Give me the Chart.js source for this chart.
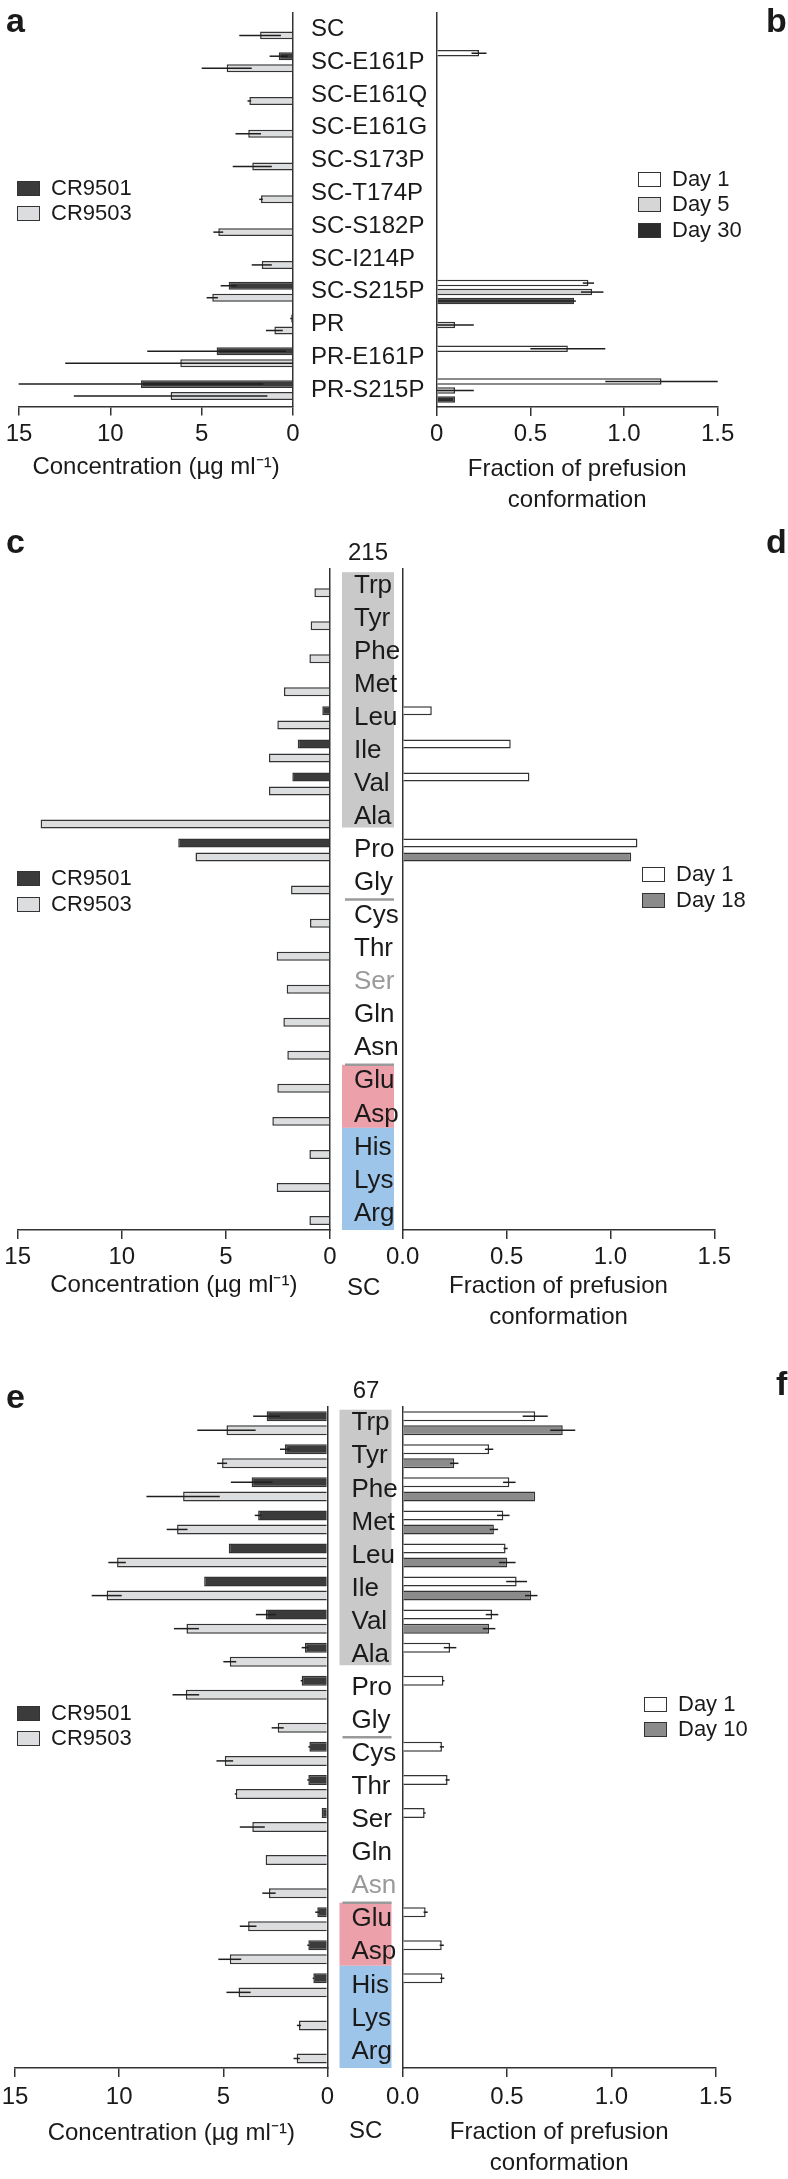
<!DOCTYPE html>
<html>
<head>
<meta charset="utf-8">
<script src="https://cdn.jsdelivr.net/npm/chart.js@4.4.0/dist/chart.umd.min.js"></script>
<style>
  html, body { margin: 0; padding: 0; background: #fff; }
  #page { position: relative; width: 788px; height: 2179px; overflow: hidden;
          font-family: 'Liberation Sans', Arial, sans-serif; color: #1a1a1a; }
  canvas { position: absolute; }
  .txt { position: absolute; white-space: nowrap; line-height: 1; }
  .letter { font-weight: bold; font-size: 34px; }
  .lab { font-size: 24px; text-align: center; }
  .key { position: absolute; height: 22px; display: flex; align-items: center;
         font-size: 22px; line-height: 22px; white-space: nowrap; }
  .key i { display: inline-block; box-sizing: border-box; width: 23px; height: 15px;
           border: 1.5px solid #333; margin-right: 11px; }
</style>
</head>
<body>
<div id="page">
  <canvas id="chartA"></canvas>
  <canvas id="chartB"></canvas>
  <canvas id="chartC"></canvas>
  <canvas id="chartD"></canvas>
  <canvas id="chartE"></canvas>
  <canvas id="chartF"></canvas>

  <div class="txt letter" style="left:6px;top:3px">a</div>
  <div class="txt letter" style="left:766px;top:3px">b</div>
  <div class="txt letter" style="left:6px;top:524px">c</div>
  <div class="txt letter" style="left:766px;top:524px">d</div>
  <div class="txt letter" style="left:6px;top:1379px">e</div>
  <div class="txt letter" style="left:776px;top:1366px">f</div>

  <div class="txt lab" style="left:338px;top:540px;width:60px">215</div>
  <div class="txt lab" style="left:336px;top:1378px;width:60px">67</div>
  <div class="txt lab" style="left:347px;top:1275px">SC</div>
  <div class="txt lab" style="left:349px;top:2118px">SC</div>

  <div class="key" style="left:17px;top:177px"><i style="background:#3b3b3b"></i>CR9501</div>
  <div class="key" style="left:17px;top:202px"><i style="background:#dcdddf"></i>CR9503</div>
  <div class="key" style="left:638px;top:168px"><i style="background:#fff"></i>Day 1</div>
  <div class="key" style="left:638px;top:193px"><i style="background:#d6d6d6"></i>Day 5</div>
  <div class="key" style="left:638px;top:219px"><i style="background:#2c2c2c"></i>Day 30</div>

  <div class="key" style="left:17px;top:867px"><i style="background:#3b3b3b"></i>CR9501</div>
  <div class="key" style="left:17px;top:893px"><i style="background:#dcdddf"></i>CR9503</div>
  <div class="key" style="left:642px;top:863px"><i style="background:#fff"></i>Day 1</div>
  <div class="key" style="left:642px;top:889px"><i style="background:#8b8b8b"></i>Day 18</div>

  <div class="key" style="left:17px;top:1702px"><i style="background:#3b3b3b"></i>CR9501</div>
  <div class="key" style="left:17px;top:1727px"><i style="background:#dcdddf"></i>CR9503</div>
  <div class="key" style="left:644px;top:1693px"><i style="background:#fff"></i>Day 1</div>
  <div class="key" style="left:644px;top:1718px"><i style="background:#8b8b8b"></i>Day 10</div>
</div>

<script>
// ---- data -------------------------------------------------------------
var mutants = ['SC', 'SC-E161P', 'SC-E161Q', 'SC-E161G', 'SC-S173P', 'SC-T174P',
               'SC-S182P', 'SC-I214P', 'SC-S215P', 'PR', 'PR-E161P', 'PR-S215P'];
var aminoAcids = ['Trp', 'Tyr', 'Phe', 'Met', 'Leu', 'Ile', 'Val', 'Ala', 'Pro', 'Gly',
                  'Cys', 'Thr', 'Ser', 'Gln', 'Asn', 'Glu', 'Asp', 'His', 'Lys', 'Arg'];

var concTicks = ['0', '5', '10', '15'];
var fracTicksB = ['0', '0.5', '1.0', '1.5'];
var fracTicks = ['0.0', '0.5', '1.0', '1.5'];

// panel a: neutralizing concentration (ug/ml)
var aCR9501    = [null, 0.78, null, null, null, null, null, null, 3.52, 0.10, 4.18, 8.32];
var aCR9501Err = [0, 0.5, 0, 0, 0, 0, 0, 0, 0.44, 0.05, 3.8, 6.7];
var aCR9503    = [1.80, 3.63, 2.39, 2.45, 2.23, 1.75, 4.09, 1.71, 4.42, 1.02, 6.17, 6.70];
var aCR9503Err = [1.14, 1.37, 0.1, 0.7, 1.07, 0.1, 0.27, 0.55, 0.31, 0.46, 6.3, 5.3];

// panel b: fraction of prefusion conformation
var bDay1     = [null, 0.226, null, null, null, null, null, null, 0.81, null, 0.70, 1.20];
var bDay1Err  = [0, 0.04, 0, 0, 0, 0, 0, 0, 0.03, 0, 0.2, 0.3];
var bDay5     = [null, null, null, null, null, null, null, null, 0.83, 0.098, null, 0.098];
var bDay5Err  = [0, 0, 0, 0, 0, 0, 0, 0, 0.06, 0.1, 0, 0.1];
var bDay30    = [null, null, null, null, null, null, null, null, 0.733, null, null, 0.098];
var bDay30Err = [0, 0, 0, 0, 0, 0, 0, 0, 0.01, 0, 0, 0];

// panel c / d: position 215 substitutions
var cCR9501 = [null, null, null, null, 0.37, 1.55, 1.81, null, 7.29, null,
               null, null, null, null, null, null, null, null, null, null];
var cCR9503 = [0.75, 0.93, 0.99, 2.21, 2.53, 2.93, 2.93, 13.9, 6.46, 1.87,
               0.96, 2.56, 2.08, 2.24, 2.05, 2.53, 2.77, 0.99, 2.56, 0.99];
var dDay1  = [null, null, null, null, 0.14, 0.52, 0.61, null, 1.13, null,
              null, null, null, null, null, null, null, null, null, null];
var dDay18 = [null, null, null, null, null, null, null, null, 1.10, null,
              null, null, null, null, null, null, null, null, null, null];

// panel e / f: position 67 substitutions
var eCR9501    = [2.92, 2.04, 3.64, 3.33, 4.74, 5.92, 2.96, 1.08, 1.24, null,
                  0.87, 0.92, 0.28, null, null, 0.49, 0.92, 0.68, null, null];
var eCR9501Err = [0.65, 0.24, 1.0, 0.16, 0, 0, 0.48, 0.16, 0.05, 0,
                  0.05, 0.05, 0, 0, 0, 0.1, 0.05, 0.03, 0, 0];
var eCR9503    = [4.85, 5.06, 6.93, 7.22, 10.1, 10.6, 6.77, 4.69, 6.80, 2.39,
                  4.93, 4.40, 3.61, 2.97, 2.81, 3.81, 4.69, 4.27, 1.37, 1.48];
var eCR9503Err = [1.4, 0.24, 1.76, 0.5, 0.42, 0.72, 0.6, 0.31, 0.64, 0.29,
                  0.4, 0.05, 0.6, 0, 0.32, 0.4, 0.55, 0.58, 0.1, 0.15];
var fDay1     = [0.635, 0.414, 0.511, 0.482, 0.493, 0.546, 0.428, 0.227, 0.195, null,
                 0.188, 0.215, 0.105, null, null, 0.11, 0.187, 0.19, null, null];
var fDay1Err  = [0.06, 0.02, 0.03, 0.03, 0.01, 0.05, 0.03, 0.03, 0.005, 0,
                 0.01, 0.01, 0.005, 0, 0, 0.01, 0.01, 0.01, 0, 0];
var fDay10    = [0.767, 0.247, 0.635, 0.437, 0.501, 0.616, 0.414, null, null, null,
                 null, null, null, null, null, null, null, null, null, null];
var fDay10Err = [0.06, 0.02, 0, 0.02, 0.04, 0.03, 0.03, 0, 0, 0,
                 0, 0, 0, 0, 0, 0, 0, 0, 0, 0];

// residue classes shaded in the label column
var hydrophobic = ['Trp', 'Tyr', 'Phe', 'Met', 'Leu', 'Ile', 'Val', 'Ala'];
var acidic = ['Glu', 'Asp'];
var basic = ['His', 'Lys', 'Arg'];
var ruledAfter = ['Gly', 'Asn'];

// ---- styling -----------------------------------------------------------
var INK = '#333';
var FONT = "'Liberation Sans', Arial, sans-serif";
var C = { cr9501: '#3b3b3b', cr9503: '#dcdddf', day1: '#ffffff', day5: '#d6d6d6',
          day30: '#2c2c2c', later: '#8b8b8b' };

Chart.defaults.font.family = FONT;
Chart.defaults.font.size = 24;
Chart.defaults.color = '#1a1a1a';

// horizontal error line through the bar end
var errorBars = {
  id: 'errorBars',
  afterDatasetsDraw: function(chart) {
    var ctx = chart.ctx, x = chart.scales.x;
    ctx.save();
    ctx.strokeStyle = '#1e1e1e';
    ctx.lineWidth = 1.5;
    chart.data.datasets.forEach(function(ds, di) {
      if (!ds.errors) return;
      chart.getDatasetMeta(di).data.forEach(function(bar, i) {
        var v = ds.data[i], e = ds.errors[i];
        if (v == null || !e) return;
        ctx.beginPath();
        ctx.moveTo(x.getPixelForValue(Math.max(0, v - e)), bar.y);
        ctx.lineTo(x.getPixelForValue(v + e), bar.y);
        ctx.stroke();
      });
    });
    ctx.restore();
  }
};

// coloured boxes behind the residue names
var labelColumn = {
  id: 'labelColumn',
  beforeDraw: function(chart, args, opts) {
    if (!opts.groups) return;
    var y = chart.scales.y, ctx = chart.ctx, labels = chart.data.labels;
    var band = y.getPixelForValue(1) - y.getPixelForValue(0);
    var x0 = chart.chartArea.right + opts.gap;
    function edge(name, side) { return y.getPixelForValue(labels.indexOf(name)) + side * band / 2; }
    ctx.save();
    opts.groups.forEach(function(g) {
      var top = edge(g.names[0], -1) + g.trim[0];
      var bot = edge(g.names[g.names.length - 1], 1) - g.trim[1];
      ctx.fillStyle = g.color;
      ctx.fillRect(x0, top, opts.width, bot - top);
    });
    ctx.strokeStyle = '#9a9a9a';
    ctx.lineWidth = 2.5;
    opts.rules.forEach(function(name) {
      var yy = edge(name, 1);
      ctx.beginPath();
      ctx.moveTo(x0 + 3, yy);
      ctx.lineTo(x0 + opts.width, yy);
      ctx.stroke();
    });
    ctx.restore();
  }
};

var columnStyle = {
  gap: 12, width: 52, rules: ruledAfter,
  groups: [
    { names: hydrophobic, color: '#c9c9c9', trim: [3, 6] },
    { names: acidic, color: '#eca0a9', trim: [0, 3] },
    { names: basic, color: '#9dc5e9', trim: [-3, 0] }
  ]
};

function panel(p) {
  var cv = document.getElementById(p.id);
  cv.width = p.box.w; cv.height = p.box.h;
  cv.style.left = p.box.x + 'px'; cv.style.top = p.box.y + 'px';
  cv.style.width = p.box.w + 'px'; cv.style.height = p.box.h + 'px';

  var left = p.side === 'left';
  var xH = p.box.y + p.box.h - p.area.b;
  var yW = left ? p.box.x + p.box.w - p.area.r : 0;
  var lineH = 24 * 1.27;
  var titlePad = p.box.y + p.box.h - p.titleY - lineH / 2;
  var step = p.xMax / 3;

  function fix(size, horiz) {
    return function(s) {
      if (horiz) s.height = size; else s.width = size;
      s.paddingTop = s.paddingBottom = s.paddingLeft = s.paddingRight = 0;
    };
  }

  return new Chart(cv, {
    type: 'bar',
    data: {
      labels: p.labels,
      datasets: p.series.map(function(s) {
        return {
          label: s.label, data: s.data, errors: s.errors,
          backgroundColor: s.color, borderColor: INK, borderWidth: 1.5,
          categoryPercentage: p.cat, barPercentage: p.bar
        };
      })
    },
    options: {
      indexAxis: 'y',
      responsive: false,
      animation: false,
      events: [],
      layout: { padding: {
        left: p.area.l - p.box.x, top: p.area.t - p.box.y,
        right: left ? 0 : p.box.x + p.box.w - p.area.r, bottom: 0 } },
      plugins: {
        legend: { display: false },
        tooltip: { enabled: false },
        labelColumn: p.column || {}
      },
      scales: {
        x: {
          type: 'linear', min: 0, max: p.xMax, reverse: left,
          afterFit: fix(xH, true),
          ticks: {
            stepSize: step, padding: p.tickPad || 4, maxRotation: 0, autoSkip: false,
            color: '#1a1a1a', font: { size: 24 },
            callback: function(v) { return p.ticks[Math.round(v / step)]; }
          },
          grid: { display: true, drawOnChartArea: false, drawTicks: true, tickLength: 9,
                  color: INK, lineWidth: 1.5 },
          border: { display: true, color: INK, width: 1.5 },
          title: { display: true, text: p.title, color: '#1a1a1a',
                   font: { size: 24, lineHeight: 1.27 }, padding: { top: 0, bottom: titlePad } }
        },
        y: {
          type: 'category', position: left ? 'right' : 'left',
          afterFit: fix(yW, false),
          grid: { display: false },
          border: { display: true, color: INK, width: 1.5 },
          ticks: {
            display: left, padding: p.labelPad || 10, autoSkip: false,
            font: { size: p.labelSize || 24 },
            color: function(c) { return p.labels[c.index] === p.greyLabel ? '#9a9a9a' : '#1a1a1a'; }
          }
        }
      }
    },
    plugins: [labelColumn, errorBars]
  });
}

var concTitle = 'Concentration (\u00b5g ml\u207b\u00b9)';
var fracTitle = ['Fraction of prefusion', 'conformation'];

panel({ id: 'chartA', side: 'left', box: { x: 0, y: 0, w: 440, h: 500 },
  area: { l: 19, r: 293, t: 13, b: 406.5 }, labels: mutants, xMax: 15, ticks: concTicks,
  title: concTitle, titleY: 467, cat: 0.73, bar: 0.667, labelPad: 10,
  series: [
    { label: 'CR9501', data: aCR9501, errors: aCR9501Err, color: C.cr9501 },
    { label: 'CR9503', data: aCR9503, errors: aCR9503Err, color: C.cr9503 }
  ] });

panel({ id: 'chartB', side: 'right', box: { x: 420, y: 0, w: 368, h: 520 },
  area: { l: 436.7, r: 717.7, t: 13, b: 407 }, labels: mutants, xMax: 1.5, ticks: fracTicksB,
  title: fracTitle, titleY: 500, cat: 0.822, bar: 0.72,
  series: [
    { label: 'Day 1', data: bDay1, errors: bDay1Err, color: C.day1 },
    { label: 'Day 5', data: bDay5, errors: bDay5Err, color: C.day5 },
    { label: 'Day 30', data: bDay30, errors: bDay30Err, color: C.day30 }
  ] });

panel({ id: 'chartC', side: 'left', box: { x: 0, y: 530, w: 440, h: 800 },
  area: { l: 17.7, r: 330, t: 569.2, b: 1230 }, labels: aminoAcids, xMax: 15, ticks: concTicks,
  title: concTitle, titleY: 1285, cat: 0.85, bar: 0.64, labelPad: 16, labelSize: 26,
  greyLabel: 'Ser', column: columnStyle,
  series: [
    { label: 'CR9501', data: cCR9501, color: C.cr9501 },
    { label: 'CR9503', data: cCR9503, color: C.cr9503 }
  ] });

panel({ id: 'chartD', side: 'right', box: { x: 380, y: 530, w: 408, h: 810 },
  area: { l: 402.7, r: 714.3, t: 569.2, b: 1230 }, labels: aminoAcids, xMax: 1.5, ticks: fracTicks,
  title: fracTitle, titleY: 1317, cat: 0.85, bar: 0.64,
  series: [
    { label: 'Day 1', data: dDay1, color: C.day1 },
    { label: 'Day 18', data: dDay18, color: C.later }
  ] });

panel({ id: 'chartE', side: 'left', box: { x: 0, y: 1370, w: 440, h: 800 },
  area: { l: 15, r: 327.5, t: 1406.7, b: 2068 }, labels: aminoAcids, xMax: 15, ticks: concTicks,
  title: concTitle, titleY: 2133, cat: 0.85, bar: 0.71, labelPad: 16, labelSize: 26, tickPad: 6,
  greyLabel: 'Asn', column: columnStyle,
  series: [
    { label: 'CR9501', data: eCR9501, errors: eCR9501Err, color: C.cr9501 },
    { label: 'CR9503', data: eCR9503, errors: eCR9503Err, color: C.cr9503 }
  ] });

panel({ id: 'chartF', side: 'right', box: { x: 380, y: 1370, w: 408, h: 809 },
  area: { l: 402.7, r: 715.7, t: 1406.7, b: 2068 }, labels: aminoAcids, xMax: 1.5, ticks: fracTicks,
  title: fracTitle, titleY: 2163, cat: 0.85, bar: 0.71, tickPad: 6,
  series: [
    { label: 'Day 1', data: fDay1, errors: fDay1Err, color: C.day1 },
    { label: 'Day 10', data: fDay10, errors: fDay10Err, color: C.later }
  ] });
</script>
</body>
</html>
